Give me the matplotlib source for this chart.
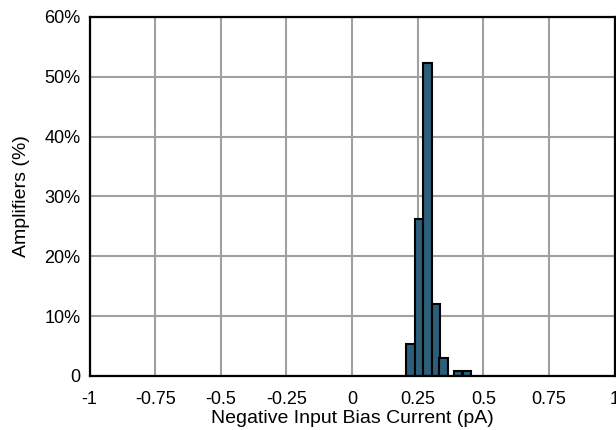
import matplotlib
matplotlib.use("Agg")
import matplotlib.pyplot as plt

plt.rcParams['font.family'] = ['Liberation Sans', 'DejaVu Sans']

bin_centers = [0.2225, 0.2555, 0.288, 0.3195, 0.348, 0.404, 0.4375]
percent = [5.3, 26.3, 52.3, 12.0, 3.0, 0.8, 0.8]
bar_width = 0.032
x_ticks = [-1, -0.75, -0.5, -0.25, 0, 0.25, 0.5, 0.75, 1]
x_tick_labels = ['-1', '-0.75', '-0.5', '-0.25', '0', '0.25', '0.5', '0.75', '1']
y_ticks = [0, 10, 20, 30, 40, 50, 60]
y_tick_labels = ['0', '10%', '20%', '30%', '40%', '50%', '60%']

fig = plt.figure(figsize=(6.16, 4.30), dpi=100)
ax = fig.add_axes([0.1453, 0.1256, 0.8523, 0.8349])

ax.bar(bin_centers, percent, width=bar_width, color='#2b5f7a',
       edgecolor='black', linewidth=1.5, zorder=3)

ax.set_xlim(-1, 1)
ax.set_ylim(0, 60)
ax.set_xticks(x_ticks)
ax.set_xticklabels(x_tick_labels)
ax.set_yticks(y_ticks)
ax.set_yticklabels(y_tick_labels)
ax.grid(True, color='#a0a0a0', linewidth=1.5, zorder=0)
ax.set_axisbelow(True)
ax.tick_params(axis='x', length=0, labelsize=13, pad=10.5)
ax.tick_params(axis='y', length=0, labelsize=13, pad=6.5)
for s in ax.spines.values():
    s.set_linewidth(1.6)
    s.set_color('black')
    s.set_zorder(4)

ax.set_xlabel('Negative Input Bias Current (pA)', fontsize=14, labelpad=1.5)
ax.set_ylabel('Amplifiers (%)', fontsize=14, labelpad=10.5)

fig.savefig('out.png', dpi=100)
